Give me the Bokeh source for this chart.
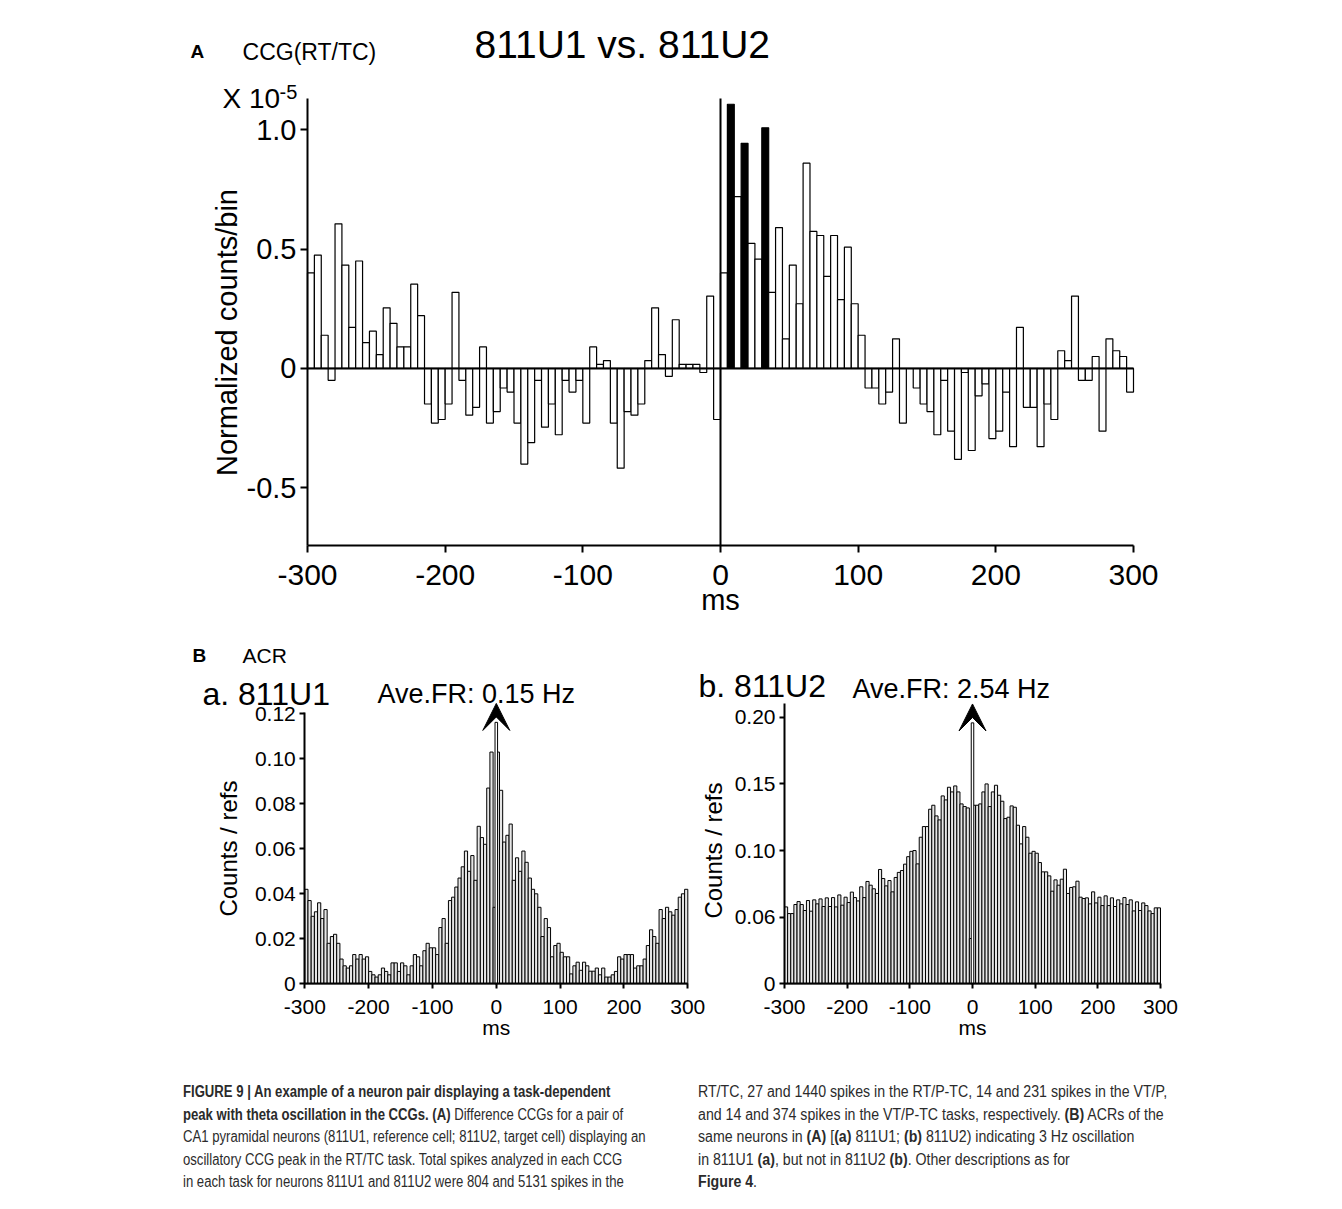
from bokeh.plotting import figure
from bokeh.layouts import column
from bokeh.models import (FixedTicker, Label, Arrow, VeeHead, Div, Range1d,
                          ColumnDataSource, LinearAxis)
from bokeh.embed import file_html
from bokeh.resources import INLINE
import math

# ---------------- data ----------------
BIN_MS = 5
LAG_START = -300

# Panel A: difference CCG (x 1e-5 normalized counts/bin), 5 ms bins from -300 to +300 ms
ccg_values = [
    0.40, 0.475, 0.139, -0.05, 0.606, 0.433, 0.172, 0.45, 0.108, 0.156,
    0.058, 0.254, 0.189, 0.09, 0.09, 0.353, 0.221, -0.149, -0.229, -0.214,
    -0.149, 0.319, -0.05, -0.196, -0.163, 0.09, -0.229, -0.181, -0.082, -0.099,
    -0.229, -0.401, -0.311, -0.05, -0.246, -0.149, -0.278, -0.05, -0.099, -0.05,
    -0.229, 0.09, 0.017, 0.033, -0.229, -0.418, -0.181, -0.196, -0.149, 0.033,
    0.254, 0.058, -0.033, 0.204, 0.017, 0.017, 0.017, -0.017, 0.303, -0.214,
    0.40, 1.107, 0.72, 0.943, 0.524, 0.458, 1.008, 0.319, 0.59, 0.124,
    0.433, 0.271, 0.86, 0.574, 0.557, 0.386, 0.557, 0.288, 0.508, 0.271,
    0.139, -0.082, -0.082, -0.149, -0.099, 0.124, -0.229, 0.0, -0.082, -0.149,
    -0.181, -0.278, -0.05, -0.263, -0.381, -0.017, -0.344, -0.115, -0.065, -0.294,
    -0.263, -0.099, -0.328, 0.172, -0.163, -0.163, -0.328, -0.149, -0.214, 0.074,
    0.033, 0.303, -0.05, -0.05, 0.05, -0.263, 0.124, 0.074, 0.05, -0.099,
]
# bins (left edge, ms) drawn filled black
ccg_sig_lags = [5, 15, 30]

# Panel B a: ACR of 811U1 (counts / refs)
acr_a_values = [
    0.042, 0.037, 0.030, 0.032, 0.036, 0.029, 0.033, 0.018, 0.021, 0.022,
    0.018, 0.011, 0.008, 0.007, 0.008, 0.013, 0.011, 0.013, 0.011, 0.012,
    0.0055, 0.004, 0.003, 0.004, 0.007, 0.0055, 0.004, 0.0093, 0.0093, 0.0055,
    0.0093, 0.008, 0.004, 0.008, 0.013, 0.012, 0.008, 0.0147, 0.018, 0.016,
    0.016, 0.013, 0.025, 0.029, 0.018, 0.037, 0.0385, 0.043, 0.047, 0.052,
    0.059, 0.050, 0.057, 0.046, 0.070, 0.065, 0.062, 0.087, 0.103, 0.034,
    0.103, 0.086, 0.063, 0.066, 0.071, 0.046, 0.056, 0.050, 0.059, 0.054,
    0.047, 0.042, 0.040, 0.034, 0.021, 0.029, 0.025, 0.012, 0.017, 0.018,
    0.014, 0.012, 0.012, 0.0044, 0.008, 0.0096, 0.006, 0.0096, 0.008, 0.0056,
    0.0056, 0.007, 0.004, 0.007, 0.003, 0.003, 0.004, 0.0055, 0.012, 0.011,
    0.013, 0.013, 0.013, 0.007, 0.008, 0.008, 0.011, 0.017, 0.024, 0.021,
    0.018, 0.033, 0.029, 0.034, 0.032, 0.0305, 0.033, 0.0385, 0.040, 0.042,
]

# Panel B b: ACR of 811U2 (counts / refs)
acr_b_values = [
    0.0577, 0.0527, 0.0527, 0.0595, 0.0617, 0.0595, 0.055, 0.0625, 0.0545, 0.063,
    0.060, 0.0637, 0.058, 0.0645, 0.058, 0.0647, 0.0577, 0.0667, 0.059, 0.065,
    0.061, 0.0688, 0.0647, 0.0622, 0.0728, 0.0647, 0.0768, 0.074, 0.0713, 0.0678,
    0.0858, 0.079, 0.0735, 0.0775, 0.069, 0.0798, 0.0836, 0.085, 0.0898, 0.0954,
    0.0994, 0.100, 0.090, 0.110, 0.118, 0.118, 0.131, 0.134, 0.126, 0.123,
    0.141, 0.138, 0.1475, 0.144, 0.1485, 0.144, 0.135, 0.133, 0.132, 0.034,
    0.134, 0.134, 0.135, 0.144, 0.150, 0.133, 0.144, 0.149, 0.1415, 0.137,
    0.124, 0.125, 0.1335, 0.1325, 0.119, 0.105, 0.118, 0.110, 0.098, 0.0994,
    0.098, 0.091, 0.084, 0.084, 0.081, 0.0695, 0.078, 0.074, 0.0785, 0.086,
    0.0678, 0.0723, 0.0728, 0.077, 0.065, 0.064, 0.0645, 0.060, 0.069, 0.0607,
    0.065, 0.0587, 0.066, 0.0587, 0.0645, 0.058, 0.063, 0.060, 0.0647, 0.0595,
    0.063, 0.0547, 0.0615, 0.055, 0.0607, 0.0587, 0.0547, 0.0527, 0.057, 0.057,
]

lag_ticks = [-300, -200, -100, 0, 100, 200, 300]
lag_tick_labels = ["-300", "-200", "-100", "0", "100", "200", "300"]
ccg_y_ticks = [-0.5, 0.0, 0.5, 1.0]
ccg_y_tick_labels = ["-0.5", "0", "0.5", "1.0"]
ccg_y_bounds = (-0.742, 1.131)
acr_a_y_ticks = [0.0, 0.02, 0.04, 0.06, 0.08, 0.10, 0.12]
acr_a_y_tick_labels = ["0", "0.02", "0.04", "0.06", "0.08", "0.10", "0.12"]
acr_a_y_bounds = (0.0, 0.1207)
acr_b_y_ticks = [0.0, 0.05, 0.10, 0.15, 0.20]
acr_b_y_tick_labels = ["0", "0.06", "0.10", "0.15", "0.20"]
acr_b_y_bounds = (0.0, 0.21)

caption_left = [
    "<b>FIGURE 9 | An example of a neuron pair displaying a task-dependent</b>",
    "<b>peak with theta oscillation in the CCGs. (A)</b> Difference CCGs for a pair of",
    "CA1 pyramidal neurons (811U1, reference cell; 811U2, target cell) displaying an",
    "oscillatory CCG peak in the RT/TC task. Total spikes analyzed in each CCG",
    "in each task for neurons 811U1 and 811U2 were 804 and 5131 spikes in the",
]
caption_right = [
    "RT/TC, 27 and 1440 spikes in the RT/P-TC, 14 and 231 spikes in the VT/P,",
    "and 14 and 374 spikes in the VT/P-TC tasks, respectively. <b>(B)</b> ACRs of the",
    "same neurons in <b>(A)</b> [<b>(a)</b> 811U1; <b>(b)</b> 811U2) indicating 3 Hz oscillation",
    "in 811U1 <b>(a)</b>, but not in 811U2 <b>(b)</b>. Other descriptions as for",
    "<b>Figure 4</b>.",
]

# ---------------- helpers ----------------
def pix_range(p0, v0, p1, v1, size, vertical=False):
    """Range whose values at canvas pixels p0/p1 are v0/v1 (y pixels counted from the top)."""
    k = (v1 - v0) / (p1 - p0)
    a = v0 - p0 * k
    b = v0 + (size - p0) * k
    return Range1d(b, a) if vertical else Range1d(a, b)


def bins_source(values, fills=None):
    lefts = [LAG_START + BIN_MS * i for i in range(len(values))]
    d = dict(left=lefts, right=[l + BIN_MS for l in lefts],
             top=[max(v, 0.0) for v in values], bottom=[min(v, 0.0) for v in values])
    if fills is not None:
        d["fill"] = fills
    return ColumnDataSource(d)


def style_axis(ax, font, size, tick_out, standoff, ticks, labels, loc, bounds, width=2):
    ax.ticker = FixedTicker(ticks=ticks)
    ax.major_label_overrides = dict(zip(ticks, labels))
    ax.fixed_location = loc
    ax.bounds = bounds
    ax.axis_line_width = width
    ax.axis_line_color = "black"
    ax.major_tick_line_width = width
    ax.major_tick_line_color = "black"
    ax.major_tick_out = tick_out
    ax.major_tick_in = 0
    ax.minor_tick_line_color = None
    ax.major_label_text_font = font
    ax.major_label_text_font_size = size
    ax.major_label_text_color = "black"
    ax.major_label_standoff = standoff


def blank_fig(w, h, xr, yr):
    p = figure(width=w, height=h, x_range=xr, y_range=yr, output_backend="svg",
               toolbar_location=None, min_border=0,
               min_border_left=0, min_border_right=0, min_border_top=0, min_border_bottom=0)
    p.xgrid.grid_line_color = None
    p.ygrid.grid_line_color = None
    p.outline_line_color = None
    p.background_fill_color = "white"
    p.border_fill_color = "white"
    return p


def text(p, x, y, s, font, size, style="normal", align="left", angle=0.0, **kw):
    p.add_layout(Label(x=x, y=y, text=s, text_font=font, text_font_size=size, text_font_style=style,
                       text_align=align, text_baseline="middle", angle=angle, text_color="black", **kw))


FONT = "Liberation Sans"

# ---------------- Panel A ----------------
WA, HA = 1342, 645
pA = blank_fig(WA, HA,
               pix_range(307, -300, 1133, 300, WA),
               pix_range(98, ccg_y_bounds[1], 545, ccg_y_bounds[0], HA, vertical=True))
fills_a = ["black" if LAG_START + BIN_MS * i in ccg_sig_lags else "white" for i in range(len(ccg_values))]
pA.quad(left="left", right="right", top="top", bottom="bottom", fill_color="fill",
        line_color="black", line_width=1.2, source=bins_source(ccg_values, fills_a))
pA.segment(x0=[lag_ticks[0]], y0=[0], x1=[lag_ticks[-1]], y1=[0], line_color="black", line_width=2)
pA.segment(x0=[0], y0=[ccg_y_bounds[0]], x1=[0], y1=[ccg_y_bounds[1]], line_color="black", line_width=2)

style_axis(pA.xaxis[0], FONT, "30px", 7, 12, lag_ticks, lag_tick_labels, ccg_y_bounds[0], (-300, 300))
style_axis(pA.yaxis[0], FONT, "29px", 7, 4, ccg_y_ticks, ccg_y_tick_labels, -300, ccg_y_bounds)

text(pA, -178.7, 1.3573, "811U1 vs. 811U2", FONT, "39px")
text(pA, -385.0, 1.3279, "A", FONT, "19px", style="bold")
text(pA, -347.2, 1.3279, "CCG(RT/TC)", FONT, "23px")
text(pA, -361.7, 1.131, "X 10", FONT, "28px")
text(pA, -320.3, 1.1582, "-5", FONT, "20px")
text(pA, -358.8, 0.1505, "Normalized counts/bin", FONT, "29px", align="center", angle=math.pi / 2)
text(pA, 0, -0.9683, "ms", FONT, "29px", align="center")

# ---------------- Panel B (a and b share one canvas) ----------------
WB, HB = 1342, 415
BAR_FILL = "#e6e6e6"
HEAD = 27
pB = blank_fig(WB, HB,
               pix_range(304.3, -300, 687.3, 300, WB),
               pix_range(338.3, 0.0, 68.3, 0.12, HB, vertical=True))
pB.extra_x_ranges = {"xb": pix_range(784, -300, 1160, 300, WB)}
pB.extra_y_ranges = {"yb": pix_range(338.3, 0.0, 71.8, 0.20, HB, vertical=True)}
rb = dict(x_range_name="xb", y_range_name="yb")

style_axis(pB.xaxis[0], FONT, "21px", 5, 11, lag_ticks, lag_tick_labels, 0.0, (-300, 300))
style_axis(pB.yaxis[0], FONT, "21px", 5, 4, acr_a_y_ticks, acr_a_y_tick_labels, -300, acr_a_y_bounds)
bx_ax = LinearAxis(**rb)
by_ax = LinearAxis(**rb)
style_axis(bx_ax, FONT, "21px", 5, 11, lag_ticks, lag_tick_labels, 0.0, (-300, 300))
style_axis(by_ax, FONT, "21px", 5, 4, acr_b_y_ticks, acr_b_y_tick_labels, -300, acr_b_y_bounds)
pB.add_layout(bx_ax, "below")
pB.add_layout(by_ax, "left")


def acr_bars(values, tip, px_per_unit, **rn):
    pB.quad(left="left", right="right", top="top", bottom="bottom", fill_color=BAR_FILL,
            line_color="black", line_width=1, source=bins_source(values), **rn)
    # off-scale zero-lag bin, marked with an arrow
    shaft_top = tip - 0.7 * HEAD / px_per_unit
    pB.quad(left=[-2], right=[2], bottom=[0], top=[shaft_top], fill_color="white",
            line_color="black", line_width=1, **rn)
    pB.add_layout(Arrow(end=VeeHead(size=HEAD, fill_color="black", line_color="black", line_width=1),
                        x_start=0, y_start=shaft_top, x_end=0, y_end=tip, line_alpha=0, **rn))


acr_bars(acr_a_values, 0.1246, 2250.0)
acr_bars(acr_b_values, 0.21, 1333.3, **rb)

text(pB, -475.9, 0.14613, "B", FONT, "19px", style="bold")
text(pB, -397.6, 0.14613, "ACR", FONT, "21px")
text(pB, -460.3, 0.12884, "a. 811U1", FONT, "32px")
text(pB, -186.1, 0.12902, "Ave.FR: 0.15 Hz", FONT, "27px")
text(pB, -419.5, 0.0601, "Counts / refs", FONT, "24px", align="center", angle=math.pi / 2)
text(pB, 0, -0.01942, "ms", FONT, "21px", align="center")

text(pB, -437.2, 0.22373, "b. 811U2", FONT, "32px", **rb)
text(pB, -191.5, 0.22148, "Ave.FR: 2.54 Hz", FONT, "27px", **rb)
text(pB, -413.3, 0.1, "Counts / refs", FONT, "24px", align="center", angle=math.pi / 2, **rb)
text(pB, 0, -0.03278, "ms", FONT, "21px", align="center", **rb)

# ---------------- caption ----------------
def cap_style(left, sx):
    return ("position:absolute;top:16px;white-space:nowrap;"
            "font-family:'Liberation Sans',Arial,sans-serif;"
            "font-size:16px;line-height:22.5px;color:#2b2b2b;"
            f"transform:scaleX({sx});transform-origin:0 0;left:{left}px;")


html = ('<div style="position:relative;width:1342px;height:149px;">'
        f'<div style="{cap_style(178, 0.82)}">' + "<br>".join(caption_left) + '</div>'
        f'<div style="{cap_style(693, 0.885)}">' + "<br>".join(caption_right) + '</div>'
        '</div>')
cap = Div(text=html, width=1342, height=149)

layout = column(pA, pB, cap)
open("out.html", "w").write(file_html(layout, INLINE))
